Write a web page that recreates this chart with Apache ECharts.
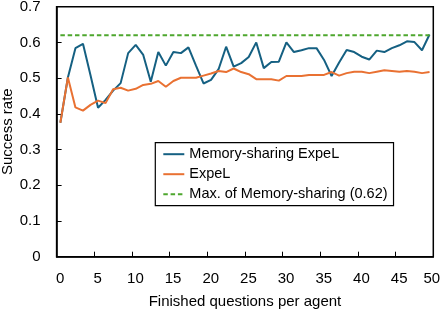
<!DOCTYPE html>
<html>
<head>
<meta charset="utf-8">
<script src="https://cdn.jsdelivr.net/npm/echarts@6/dist/echarts.min.js"></script>
<style>html,body{margin:0;padding:0;background:#fff}#c{width:440px;height:310px}</style>
</head>
<body>
<div id="c"></div>
<script>
// Finished questions per agent (category index, each occupies one band)
const questions = [0,1,2,3,4,5,6,7,8,9,10,11,12,13,14,15,16,17,18,19,20,21,22,23,24,25,26,27,28,29,30,31,32,33,34,35,36,37,38,39,40,41,42,43,44,45,46,47,48,49];
const memorySharing = [0.375,0.502,0.584,0.596,0.508,0.417,0.439,0.465,0.486,0.570,0.593,0.565,0.490,0.573,0.535,0.573,0.570,0.586,0.535,0.485,0.495,0.525,0.588,0.532,0.542,0.559,0.600,0.528,0.545,0.546,0.600,0.573,0.578,0.584,0.584,0.551,0.506,0.544,0.579,0.573,0.560,0.552,0.577,0.573,0.584,0.592,0.603,0.601,0.578,0.622];
const expel = [0.375,0.502,0.418,0.409,0.425,0.437,0.430,0.469,0.473,0.465,0.470,0.481,0.484,0.492,0.476,0.492,0.501,0.501,0.501,0.507,0.513,0.520,0.517,0.527,0.517,0.511,0.497,0.497,0.497,0.493,0.506,0.506,0.506,0.509,0.509,0.509,0.517,0.507,0.514,0.518,0.518,0.514,0.518,0.522,0.520,0.518,0.520,0.518,0.514,0.517];
const maxMemorySharing = [0.62,0.62,0.62,0.62,0.62,0.62,0.62,0.62,0.62,0.62,0.62,0.62,0.62,0.62,0.62,0.62,0.62,0.62,0.62,0.62,0.62,0.62,0.62,0.62,0.62,0.62,0.62,0.62,0.62,0.62,0.62,0.62,0.62,0.62,0.62,0.62,0.62,0.62,0.62,0.62,0.62,0.62,0.62,0.62,0.62,0.62,0.62,0.62,0.62,0.62];
const xTickLabels = [0,5,10,15,20,25,30,35,40,45,50];
const yTickLabels = [0,0.1,0.2,0.3,0.4,0.5,0.6,0.7];
const seriesNames = ['Memory-sharing ExpeL','ExpeL','Max. of Memory-sharing (0.62)'];

const FONT = 'Liberation Sans';
// points sit at the centre of each category band
const toPts = arr => arr.map((v,i)=>[questions[i]+0.5, v]);

const chart = echarts.init(document.getElementById('c'), null, {renderer:'canvas'});
chart.setOption({
  animation:false,
  textStyle:{fontFamily:FONT},
  grid:{left:56.6, right:6.7, top:6.7, bottom:53.3, outerBoundsMode:'none', containLabel:false,
        show:true, borderColor:'#000', borderWidth:1.5, backgroundColor:'transparent'},
  legend:{
    data:seriesNames, orient:'vertical', left:155.3, top:142.7,
    borderColor:'#000', borderWidth:1.2, backgroundColor:'#fff',
    padding:[4,6,4,7], itemWidth:21, itemHeight:14, itemGap:5,
    itemStyle:{opacity:0},
    textStyle:{fontFamily:FONT, fontSize:14.5, color:'#000'}
  },
  xAxis:{
    type:'value', min:xTickLabels[0], max:xTickLabels[xTickLabels.length-1], interval:5,
    name:'Finished questions per agent', nameLocation:'middle', nameGap:38,
    nameTextStyle:{fontFamily:FONT, fontSize:15, color:'#000'},
    axisLine:{show:true, onZero:false, lineStyle:{color:'#000', width:1.5}},
    axisTick:{show:true, inside:true, length:5, lineStyle:{color:'#000'}},
    splitLine:{show:false},
    axisLabel:{margin:15, fontSize:15, color:'#000', fontFamily:FONT,
      formatter: v => (v===50 ? '{e|'+v+'}' : '{n|'+v+'}'),
      rich:{n:{fontSize:15, color:'#000', fontFamily:FONT, padding:[0,0,0,7]}, e:{fontSize:15, color:'#000', fontFamily:FONT, padding:[0,3,0,0]}}
    }
  },
  yAxis:{
    type:'value', min:yTickLabels[0], max:yTickLabels[yTickLabels.length-1], interval:0.1,
    name:'Success rate', nameLocation:'middle', nameGap:41, nameMoveOverlap:false,
    nameTextStyle:{fontFamily:FONT, fontSize:15, color:'#000'},
    axisLine:{show:true, lineStyle:{color:'#000', width:1.5}},
    axisTick:{show:true, inside:true, length:5, lineStyle:{color:'#000'}},
    splitLine:{show:false},
    axisLabel:{margin:16, fontSize:15, color:'#000', fontFamily:FONT, formatter: v => String(+v.toFixed(1))}
  },
  series:[
    {name:seriesNames[0], type:'line', data:toPts(memorySharing), symbol:'none', lineStyle:{color:'#156082', width:2}, itemStyle:{color:'#156082'}, z:2},
    {name:seriesNames[1], type:'line', data:toPts(expel), symbol:'none', lineStyle:{color:'#E97132', width:2}, itemStyle:{color:'#E97132'}, z:3},
    {name:seriesNames[2], type:'line', data:toPts(maxMemorySharing), symbol:'none', lineStyle:{color:'#4EA72E', width:2, type:[4.5,2.8]}, itemStyle:{color:'#4EA72E'}, z:4}
  ]
});
</script>
</body>
</html>
